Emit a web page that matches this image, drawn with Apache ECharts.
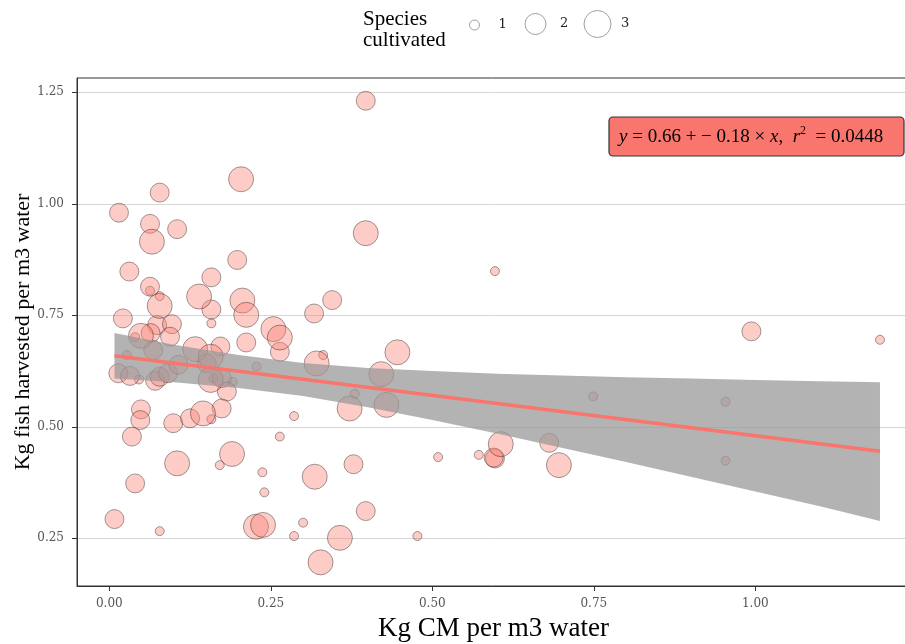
<!DOCTYPE html>
<html>
<head>
<meta charset="utf-8">
<title>Fish harvested vs CM per m3 water</title>
<script src="https://cdn.jsdelivr.net/npm/echarts@6/dist/echarts.min.js"></script>
<style>
html, body { margin: 0; padding: 0; background: #fff; }
#chart { width: 905px; height: 644px; }
</style>
</head>
<body>
<div id="chart"></div>
<script>
// farms cultivating 1 species
var sp1X = [0.063, 0.078, 0.158, 0.040, 0.027, 0.331, 0.046, 0.161, 0.191, 0.228, 0.158, 0.286, 0.264, 0.171,
  0.237, 0.240, 0.078, 0.300, 0.286, 0.380, 0.572, 0.509, 0.749, 0.477, 0.597, 1.193, 0.954, 0.954];
var sp1Y = [0.805, 0.793, 0.732, 0.701, 0.661, 0.661, 0.606, 0.609, 0.601, 0.635, 0.517, 0.524, 0.478, 0.414,
  0.398, 0.353, 0.266, 0.285, 0.255, 0.574, 0.437, 0.432, 0.568, 0.255, 0.849, 0.695, 0.556, 0.424];

// 2 species
var sp2X = [0.397, 0.078, 0.015, 0.063, 0.105, 0.198, 0.031, 0.158, 0.063, 0.158, 0.021, 0.317, 0.345, 0.074,
  0.097, 0.064, 0.094, 0.068, 0.172, 0.212, 0.264, 0.014, 0.032, 0.071, 0.078, 0.091, 0.107, 0.151, 0.174,
  0.182, 0.049, 0.048, 0.035, 0.099, 0.125, 0.174, 0.378, 0.040, 0.008, 0.397, 0.597, 0.595, 0.681, 0.994];
var sp2Y = [1.231, 1.025, 0.980, 0.955, 0.943, 0.874, 0.848, 0.835, 0.814, 0.763, 0.743, 0.754, 0.784, 0.728,
  0.730, 0.710, 0.702, 0.672, 0.680, 0.689, 0.668, 0.620, 0.614, 0.603, 0.612, 0.620, 0.639, 0.642, 0.609,
  0.579, 0.539, 0.515, 0.478, 0.508, 0.519, 0.541, 0.416, 0.373, 0.293, 0.311, 0.429, 0.431, 0.464, 0.714];

// 3 species
var sp3X = [0.204, 0.066, 0.397, 0.139, 0.078, 0.206, 0.212, 0.254, 0.264, 0.049, 0.133, 0.157, 0.321, 0.157,
  0.145, 0.105, 0.190, 0.318, 0.227, 0.238, 0.357, 0.327, 0.372, 0.446, 0.421, 0.429, 0.606, 0.696];
var sp3Y = [1.055, 0.915, 0.934, 0.792, 0.771, 0.783, 0.751, 0.719, 0.700, 0.704, 0.674, 0.657, 0.642, 0.605,
  0.530, 0.418, 0.439, 0.388, 0.276, 0.280, 0.251, 0.196, 0.541, 0.667, 0.618, 0.549, 0.461, 0.414];

var xTicks = [0, 0.25, 0.5, 0.75, 1];
var yTicks = [0.25, 0.5, 0.75, 1, 1.25];

// fitted line and its confidence band
var fitX = [0.008, 1.193];
var fitY = [0.659, 0.445];
var bandX = [0.008, 0.1, 0.2, 0.3, 0.4, 0.5, 0.6, 0.7, 0.8, 0.9, 1.0, 1.1, 1.193];
var bandUpper = [0.710, 0.684, 0.661, 0.643, 0.632, 0.625, 0.619, 0.615, 0.611, 0.608, 0.605, 0.602, 0.600];
var bandLower = [0.608, 0.600, 0.587, 0.569, 0.544, 0.515, 0.485, 0.453, 0.421, 0.388, 0.355, 0.322, 0.289];

function pairs(xs, ys) {
  return xs.map(function (x, i) { return [x, ys[i]]; });
}

var serifFont = 'Liberation Serif';
var tickFont = 'DejaVu Serif';
var pointStyle = { color: 'rgba(250,128,114,0.5)', borderColor: 'rgba(0,0,0,0.45)', borderWidth: 1 };

function sizeLegend(name, d, cx, textGap) {
  return {
    data: [name],
    left: cx - d / 2,
    top: 23.5 - d / 2,
    padding: 0,
    itemWidth: d,
    itemHeight: d,
    icon: 'circle',
    selectedMode: false,
    itemStyle: { color: '#fff', borderColor: '#888', borderWidth: 1 },
    textStyle: { fontFamily: tickFont, fontSize: 13, color: '#222', padding: [0, 0, 0, textGap] }
  };
}

function scatter(name, xs, ys, size) {
  return {
    name: name,
    type: 'scatter',
    data: pairs(xs, ys),
    symbolSize: size,
    itemStyle: pointStyle,
    z: 2,
    silent: true
  };
}

var myChart = echarts.init(document.getElementById('chart'));
var option = {
  animation: false,
  legend: [
    sizeLegend('1', 10, 474, 14),
    sizeLegend('2', 21, 535, 9),
    sizeLegend('3', 27, 597, 5)
  ],
  grid: {
    left: 77, width: 833, top: 78, bottom: 58,
    outerBoundsMode: 'none',
    containLabel: false,
    show: true, borderColor: '#333', borderWidth: 1, backgroundColor: 'transparent'
  },
  xAxis: {
    type: 'value',
    min: -0.05,
    max: 1.2395,
    name: 'Kg CM per m3 water',
    nameLocation: 'middle',
    nameGap: 29,
    nameTextStyle: { fontFamily: serifFont, fontSize: 27, color: '#000' },
    axisLine: { show: true, onZero: false, lineStyle: { color: '#333', width: 1 } },
    axisTick: { show: true, length: 5, lineStyle: { color: '#333' }, customValues: xTicks },
    axisLabel: {
      customValues: xTicks, margin: 12, fontFamily: tickFont, fontSize: 12, color: '#555',
      formatter: function (v) { return v.toFixed(2); }
    },
    splitLine: { show: false }
  },
  yAxis: {
    type: 'value',
    min: 0.143,
    max: 1.282,
    name: 'Kg fish harvested per m3 water',
    nameLocation: 'middle',
    nameGap: 43,
    nameMoveOverlap: false,
    nameTextStyle: { fontFamily: serifFont, fontSize: 22, color: '#000' },
    axisLine: { show: true, onZero: false, lineStyle: { color: '#333', width: 1 } },
    axisTick: { show: true, length: 5, lineStyle: { color: '#333' }, customValues: yTicks },
    axisLabel: {
      customValues: yTicks, margin: 13, fontFamily: tickFont, fontSize: 12, color: '#555',
      formatter: function (v) { return v.toFixed(2); }
    },
    splitLine: { show: true, lineStyle: { color: '#d6d6d6', width: 1 } }
  },
  series: [
    scatter('1', sp1X, sp1Y, 9),
    scatter('2', sp2X, sp2Y, 19),
    scatter('3', sp3X, sp3Y, 25),
    {
      type: 'custom',
      data: [[0, 0]],
      z: 3,
      silent: true,
      renderItem: function (params, api) {
        var pts = [];
        for (var i = 0; i < bandX.length; i++) pts.push(api.coord([bandX[i], bandUpper[i]]));
        for (var j = bandX.length - 1; j >= 0; j--) pts.push(api.coord([bandX[j], bandLower[j]]));
        return { type: 'polygon', shape: { points: pts }, style: { fill: 'rgba(153,153,153,0.75)' } };
      }
    },
    {
      type: 'line',
      data: pairs(fitX, fitY),
      showSymbol: false,
      lineStyle: { color: '#F8766D', width: 3.5 },
      z: 4,
      silent: true
    }
  ],
  graphic: [
    {
      type: 'text',
      left: 363,
      top: 9,
      style: {
        text: 'Species\ncultivated',
        font: '21px "Liberation Serif"',
        lineHeight: 21,
        fill: '#000'
      }
    },
    {
      type: 'rect',
      shape: { x: 609, y: 117, width: 295, height: 39, r: 4 },
      style: { fill: '#F8766D', stroke: '#333', lineWidth: 1.2 },
      z: 10
    },
    {
      type: 'text',
      x: 619,
      y: 137,
      z: 11,
      style: {
        text: '{i|y} = 0.66 + − 0.18 × {i|x},  {i|r}{s|2}  = 0.0448',
        fontFamily: serifFont,
        fontSize: 19,
        fill: '#000',
        verticalAlign: 'middle',
        rich: {
          i: { fontFamily: serifFont, fontSize: 19, fontStyle: 'italic' },
          s: { fontFamily: serifFont, fontSize: 12, padding: [0, 0, 12, 0] }
        }
      }
    }
  ]
};
myChart.setOption(option);
</script>
</body>
</html>
